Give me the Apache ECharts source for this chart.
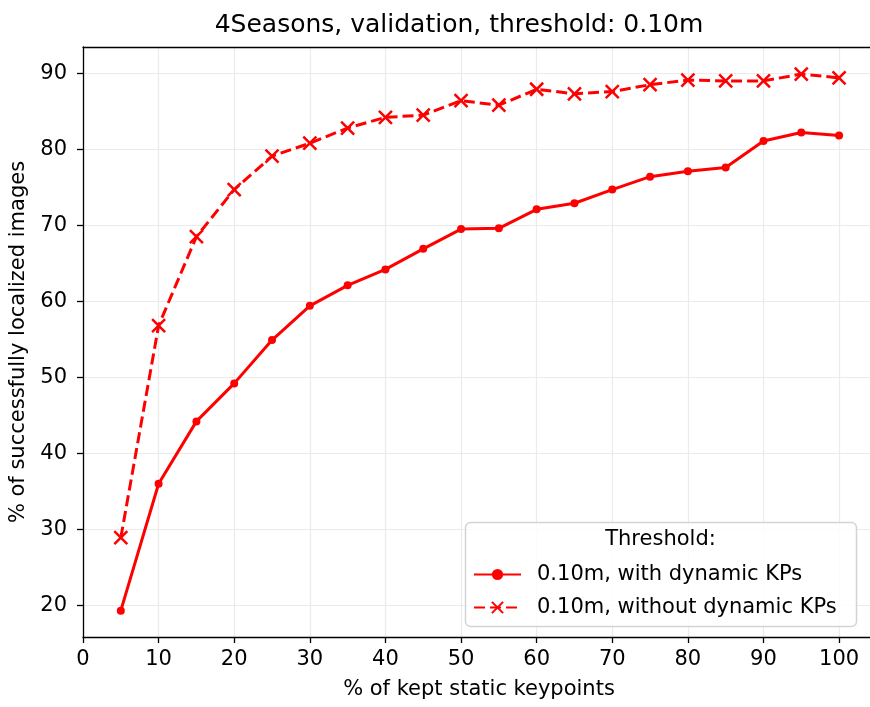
<!DOCTYPE html>
<html>
<head>
<meta charset="utf-8">
<script src="https://cdn.jsdelivr.net/npm/echarts@6/dist/echarts.min.js"></script>
<style>
html,body{margin:0;padding:0;background:#fff;}
#chart{width:870px;height:707px;}
</style>
</head>
<body>
<div id="chart"></div>
<script>
const keptPercent = [5,10,15,20,25,30,35,40,45,50,55,60,65,70,75,80,85,90,95,100];
const withDynamic = [19.3,36.0,44.2,49.2,54.9,59.4,62.1,64.2,66.9,69.5,69.6,72.1,72.9,74.7,76.4,77.1,77.6,81.1,82.2,81.8];
const withoutDynamic = [28.9,56.8,68.5,74.7,79.1,80.8,82.8,84.2,84.5,86.4,85.8,87.9,87.3,87.6,88.5,89.1,89.0,89.0,89.9,89.4];
const xTicks = [0,10,20,30,40,50,60,70,80,90,100];
const yTicks = [20,30,40,50,60,70,80,90];
const seriesNames = ['0.10m, with dynamic KPs', '0.10m, without dynamic KPs'];
const titleText = '4Seasons, validation, threshold: 0.10m';
const xName = '% of kept static keypoints';
const yName = '% of successfully localized images';
const legendTitle = 'Threshold:';

const FONT = 'DejaVu Sans';
const chart = echarts.init(document.getElementById('chart'), null, {renderer: 'canvas'});
const pairs = (ys) => keptPercent.map((x, i) => [x, ys[i]]);
const xPath = 'path://M0,0L10,10M10,0L0,10';

chart.setOption({
  animation: false,
  backgroundColor: '#fff',
  grid: {left: 83, right: -5, top: 47, bottom: 70, outerBoundsMode: 'none', containLabel: false, show: false},
  xAxis: [{
    type: 'value', min: 0, max: 104.75,
    name: xName, nameLocation: 'middle', nameGap: 42,
    nameTextStyle: {fontFamily: FONT, fontSize: 21, color: '#000'},
    axisLine: {show: true, onZero: false, lineStyle: {color: '#000', width: 1.3}},
    axisTick: {show: true, length: 6, lineStyle: {color: '#000', width: 1.3}, customValues: xTicks},
    axisLabel: {fontFamily: FONT, fontSize: 21, color: '#000', margin: 12, customValues: xTicks},
    splitLine: {show: true, lineStyle: {color: '#ebebeb', width: 1.2}}
  }, {
    type: 'value', position: 'top', min: 0, max: 104.75,
    axisLine: {show: true, onZero: false, lineStyle: {color: '#000', width: 1.3}},
    axisTick: {show: false}, axisLabel: {show: false}, splitLine: {show: false}
  }],
  yAxis: {
    type: 'value', min: 15.83, max: 93.46,
    name: yName, nameLocation: 'middle', nameGap: 52, nameRotate: 90,
    nameTextStyle: {fontFamily: FONT, fontSize: 21, color: '#000'},
    axisLine: {show: true, onZero: false, lineStyle: {color: '#000', width: 1.3}},
    axisTick: {show: true, length: 6, lineStyle: {color: '#000', width: 1.3}, customValues: yTicks},
    axisLabel: {fontFamily: FONT, fontSize: 21, color: '#000', margin: 16, customValues: yTicks},
    splitLine: {show: true, lineStyle: {color: '#ebebeb', width: 1.2}}
  },
  legend: {
    orient: 'vertical', left: 468, top: 559, itemGap: 12,
    itemWidth: 47, itemHeight: 14,
    textStyle: {fontFamily: FONT, fontSize: 21, color: '#000', padding: [0,0,0,11]},
    data: seriesNames
  },
  graphic: [
    {type: 'text', x: 459, y: 25, z: 10, style: {text: titleText, font: '25px "DejaVu Sans"', fill: '#000', align: 'center', verticalAlign: 'middle'}},
    {type: 'rect', shape: {x: 465.5, y: 522.5, width: 391, height: 104, r: 5}, z: 1, style: {fill: 'rgba(255,255,255,0.85)', stroke: '#d4d4d4', lineWidth: 1.5}},
    {type: 'text', x: 660.5, y: 540, z: 10, style: {text: legendTitle, font: '21px "DejaVu Sans"', fill: '#000', align: 'center', verticalAlign: 'middle'}}
  ],
  series: [
    {
      name: seriesNames[0], type: 'line', data: pairs(withDynamic), xAxisIndex: 0,
      symbol: 'circle', symbolSize: 8, z: 3,
      lineStyle: {color: '#ff0000', width: 3},
      itemStyle: {color: '#ff0000'}
    },
    {
      name: seriesNames[1], type: 'line', data: pairs(withoutDynamic), xAxisIndex: 0,
      symbol: xPath, symbolSize: 13, symbolKeepAspect: true, z: 3,
      lineStyle: {color: '#ff0000', width: 3, type: [11, 5]},
      itemStyle: {color: '#ff0000', borderColor: '#ff0000', borderWidth: 2.5}
    }
  ]
});
</script>
</body>
</html>
